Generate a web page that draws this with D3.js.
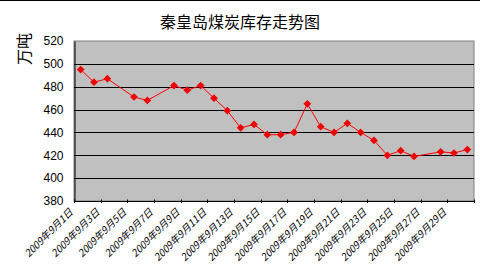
<!DOCTYPE html>
<html><head><meta charset="utf-8">
<script src="https://cdn.jsdelivr.net/npm/d3@7"></script>
<style>html,body{margin:0;padding:0;background:#fff;}svg{display:block;}</style>
</head><body>
<svg id="c" width="480" height="278"></svg>
<script>
const days = d3.range(1, 31).map(d => "2009年9月" + d + "日");
const values = [495, 484, 487, null, 471, 468, null, 481, 477, 481, 470, 459, 444, 447, 438, 438, 440, 465, 445, 440, 448, 440, 433, 420, 424, 419, null, 423, 422, 425];
const yTicks = [380, 400, 420, 440, 460, 480, 500, 520];
const title = "秦皇岛煤炭库存走势图";
const yLabel = "万吨";

const svg = d3.select("#c");
const L = 74, R = 474, T = 41, B = 201;

svg.append("line").attr("x1", 0).attr("x2", 480).attr("y1", 0.5).attr("y2", 0.5).attr("stroke", "#000");

const x = d3.scaleBand().domain(days).range([L, R]).padding(0);
const y = d3.scaleLinear().domain([380, 520]).range([B, T]);

svg.append("rect").attr("x", L).attr("y", T).attr("width", R - L).attr("height", B - T)
  .attr("fill", "#c0c0c0").attr("stroke", "#808080").attr("stroke-width", 1);

svg.append("g").selectAll("line").data(yTicks.filter(v => v > 380 && v < 520)).join("line")
  .attr("x1", L).attr("x2", R).attr("y1", d => Math.round(y(d)) + 0.5).attr("y2", d => Math.round(y(d)) + 0.5)
  .attr("stroke", "#000").attr("stroke-width", 1);

// y axis
const ya = svg.append("g").attr("transform", `translate(${L + 0.5},0)`)
  .call(d3.axisLeft(y).tickValues(yTicks).tickSize(0).tickPadding(11));
ya.select(".domain").attr("stroke", "#000");
ya.selectAll("text").attr("font-family", "Arial, 'Liberation Sans', sans-serif").attr("font-size", 12).attr("fill", "#000");

// x axis
const xa = svg.append("g").attr("transform", `translate(0,${B + 0.5})`);
xa.append("line").attr("x1", L).attr("x2", R).attr("stroke", "#000");
const bounds = d3.range(0, 31, 2);
xa.selectAll("line.t").data(bounds).join("line").attr("class", "t")
  .attr("x1", i => Math.round(L + i * x.bandwidth()) + 0.5).attr("x2", i => Math.round(L + i * x.bandwidth()) + 0.5)
  .attr("y1", -2).attr("y2", 1.5).attr("stroke", "#000");

svg.append("g").selectAll("text").data(days.filter((d, i) => i % 2 === 0)).join("text")
  .attr("transform", d => `translate(${x(d) + x.bandwidth() / 2 - 7},${B + 12}) rotate(-45)`)
  .attr("text-anchor", "end")
  .attr("font-family", "'Noto Sans CJK SC', sans-serif").attr("font-size", 10)
  .attr("font-style", "italic").attr("font-weight", "normal")
  .attr("fill", "#000").text(d => d);

// line
const pts = days.map((d, i) => ({ d, v: values[i] })).filter(p => p.v !== null);
const line = d3.line().x(p => x(p.d) + x.bandwidth() / 2).y(p => y(p.v));
svg.append("path").datum(pts).attr("d", line).attr("fill", "none").attr("stroke", "#ff0000").attr("stroke-width", 1);
svg.append("g").selectAll("path").data(pts).join("path")
  .attr("transform", p => `translate(${x(p.d) + x.bandwidth() / 2},${y(p.v)}) rotate(45)`)
  .attr("d", d3.symbol().type(d3.symbolSquare).size(30)).attr("fill", "#ee0000");

// title
svg.append("text").attr("x", 240).attr("y", 28).attr("text-anchor", "middle")
  .attr("font-family", "'Noto Sans CJK SC', sans-serif").attr("font-size", 16).attr("fill", "#000").text(title);

// y label
svg.append("text").attr("transform", "translate(30,49) rotate(-90)").attr("text-anchor", "middle")
  .attr("font-family", "'Noto Sans CJK SC', sans-serif").attr("font-size", 16).attr("fill", "#000").text(yLabel);
</script>
</body></html>
